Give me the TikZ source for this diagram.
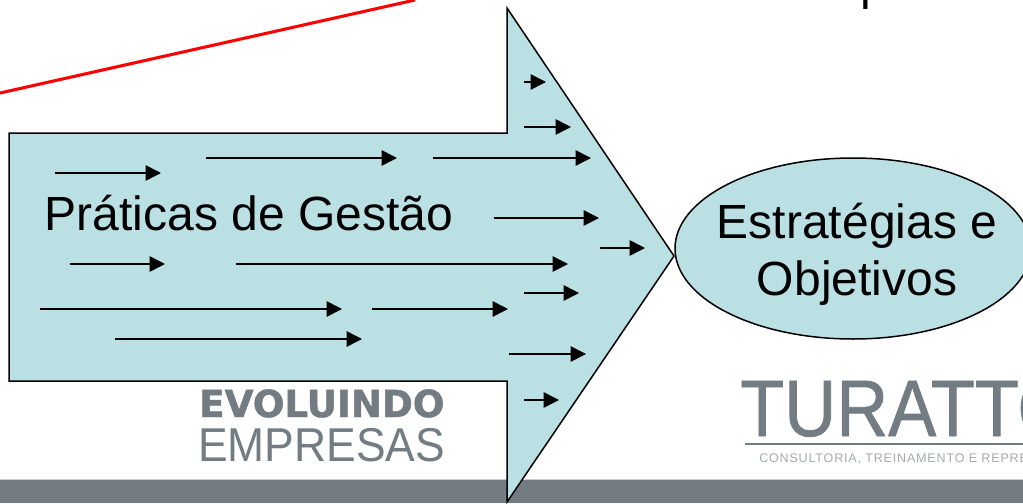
\documentclass[tikz,border=0pt]{standalone}
\usepackage{fontspec}
\setmainfont{Liberation Sans}
\newfontfamily\logobold{DejaVu Sans}[BoldFeatures={FakeBold=1.3}]
\newfontfamily\logoheavy{Liberation Sans}[FakeBold=1]
\newfontfamily\logospaced{Liberation Sans}[LetterSpace=6.5]
\usetikzlibrary{arrows.meta,shapes.geometric}
\definecolor{fillblue}{HTML}{BAE0E3}
\definecolor{bandgray}{HTML}{727C82}
\definecolor{logogray}{HTML}{727C82}
\definecolor{logolight}{HTML}{A3ABAF}
\tikzset{
  flow/.style={draw=black,line width=1.5pt*0.75,fill=fillblue},
  flecha/.style={draw=black,line width=1.6*0.75pt,-{Triangle[length=11.5pt,width=11.5pt]}},
  lbl/.style={inner sep=0pt,font=\fontsize{36pt}{43pt}\selectfont,text=black,align=center},
  logotext/.style={inner sep=0pt,text=logogray,anchor=base west}
}
\begin{document}
\begin{tikzpicture}[x=0.75pt,y=-0.75pt]
\useasboundingbox (0,0) rectangle (1023,503);
\begin{scope}
\clip (0,0) rectangle (1023,503);
\fill[white] (0,0) rectangle (1023,503);
\fill[bandgray] (0,480) rectangle (1023,503);
\fill[gray!40] (0,479) rectangle (1023,480);
\coordinate (r1) at (0,93);
\coordinate (r2) at (415,0);
\draw[red,line width=2.3pt] (r1) -- (r2);
\node[lbl,anchor=base west] (topword) at (860,-0.5) {proce};
\node[logotext,font=\fontsize{27.9pt}{28pt}\logobold\bfseries\selectfont] (logoa) at (199,417) {EVOLUINDO};
\node[logotext,font=\fontsize{35.6pt}{36pt}\selectfont] (logob) at (198,461) {\scalebox{0.935}[1]{EMPRESAS}};
\node[logotext,font=\fontsize{60pt}{60pt}\logoheavy\selectfont] (logoc) at (740,436) {\scalebox{0.9}[1]{TURATTO}};
\coordinate (lr1) at (745,444);
\coordinate (lr2) at (1023,444);
\draw[logogray,line width=1pt] (lr1) -- (lr2);
\node[logotext,font=\fontsize{9.4pt}{10pt}\logospaced\selectfont,text=logolight] (logod) at (759,462) {CONSULTORIA, TREINAMENTO E REPRESENTAÇÃO};
\node[flow,ellipse,minimum width=356*0.75pt,minimum height=181*0.75pt,inner sep=0pt] (elipse) at (853,248.5) {};
\path[flow] (9,133) -- (507,133) -- (507,8) -- (674,256) -- (507,502) -- (507,381) -- (9,381) -- cycle;
\node[lbl,anchor=base west] (praticas) at (44.5,230) {Práticas de Gestão};
\node[lbl,anchor=center] (estr) at (857,254) {Estratégias e\\Objetivos};
\foreach \i/\xa/\xb/\yy in {1/55/161/173,2/206/397/158,3/433/591/158,4/524/546/82,5/524/571/127,6/494/599/218,7/600/645/248,8/236/568/264,9/70/165/264,10/40/342/309,11/372/508/309,12/524/579/293,13/115/362/339,14/509/586/354,15/524/559/400}{
  \coordinate (a\i) at (\xa,\yy);
  \coordinate (b\i) at (\xb,\yy);
  \draw[flecha] (a\i) -- (b\i);
}
\end{scope}
\end{tikzpicture}
\end{document}
